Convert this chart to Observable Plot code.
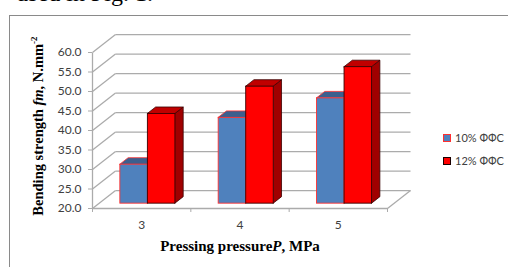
<!DOCTYPE html>
<html>
<head>
<meta charset="utf-8">
<script src="https://cdn.jsdelivr.net/npm/d3@7"></script>
<script src="https://cdn.jsdelivr.net/npm/@observablehq/plot@0.6"></script>
<style>
  html, body { margin: 0; padding: 0; background: #fff; }
  #wrap { position: relative; width: 508px; height: 267px; overflow: hidden; background: #fff; }
  #wrap svg { position: absolute; left: 0; top: 0; }
  .frame { position: absolute; left: 9px; top: 15px; width: 600px; height: 400px; border-left: 1px solid #8a8a8a; border-top: 1px solid #8a8a8a; }
  .doc { position: absolute; right: 355px; top: -20px; font: 24px "Liberation Serif", serif; white-space: nowrap; color: #000; }
  .ytitle { position: absolute; left: 38px; top: 126px; transform: translate(-50%, -50%) rotate(-90deg); font: bold 14.5px "Liberation Serif", serif; white-space: nowrap; color: #000; }
  .xtitle { position: absolute; left: 240px; top: 246px; transform: translate(-50%, -50%); font: bold 15px "Liberation Serif", serif; white-space: nowrap; color: #000; }
  .legend { position: absolute; left: 443px; top: 126px; font: 11px Lato, "Open Sans", sans-serif; color: #404040; }
  .legend div { height: 23px; display: flex; align-items: center; white-space: nowrap; }
  .legend span.sw { display: inline-block; width: 6px; height: 6px; margin-right: 4px; }
</style>
</head>
<body>
<div id="wrap">
  <div class="doc">used in Fig. 1.</div>
  <div class="frame"></div>
</div>
<script>
// ---- data ----
const pressures = ["3", "4", "5"];
const seriesNames = ["10% ФФС", "12% ФФС"];
const values10 = [30, 42, 47];
const values12 = [43, 50, 55];
const yTicks = [20, 25, 30, 35, 40, 45, 50, 55, 60];

// ---- styling / projection constants ----
const DX = 0.234;   // depth offset in x units
const DY = 4.6;     // depth offset in value units
const ZF = 0.27, ZB = 0.63; // bar front/back depth
const BW = 0.28;    // bar width
const frontFill = ["#4F81BD", "#FF0000"];
const topFill = ["#3C5F8E", "#C00000"];
const sideFill = ["#36567F", "#A00000"];
const strokeCol = ["#FF3030", "#3a0000"];
const gridCol = "#ababab";

const seriesVals = [values10, values12];
const bars = pressures.flatMap((p, i) => seriesNames.map((s, j) => {
  const x0 = i + 0.22 + j * BW;
  return {id: `${p}-${j}`, i, j, v: seriesVals[j][i], x0, x1: x0 + BW};
}));

const topPts = bars.flatMap(b => [ZF, ZB].map(z => ({id: b.id, j: b.j, y: b.v + z * DY, x1: b.x0 + z * DX, x2: b.x1 + z * DX})));
const sidePts = bars.flatMap(b => [ZF, ZB].map(z => ({id: b.id, j: b.j, x: b.x1 + z * DX, y1: 20 + z * DY, y2: b.v + z * DY})));

const xEdges = [0, 1, 2, 3];
const xCenters = pressures.map((p, i) => i + 0.5);

const plot = Plot.plot({
  width: 508, height: 267,
  marginLeft: 92, marginRight: 121, marginTop: 52, marginBottom: 59,
  x: {domain: [0, 3], label: null},
  y: {domain: [20, 60], label: null},
  style: {background: "transparent", overflow: "visible"},
  marks: [
    // back wall gridlines
    Plot.link(yTicks, {x1: DX, x2: 3 + DX, y1: d => d + DY, y2: d => d + DY, stroke: gridCol, strokeWidth: 1.3}),
    // side wall gridlines
    Plot.link(yTicks, {x1: 0, x2: DX, y1: d => d, y2: d => d + DY, stroke: gridCol, strokeWidth: 1.3}),
    // floor right edge and front edge
    Plot.link([3], {x1: d => d, x2: d => d + DX, y1: 20, y2: 20 + DY, stroke: gridCol, strokeWidth: 1.3}),
    Plot.link([0], {x1: 0, x2: 3, y1: 20, y2: 20, stroke: gridCol, strokeWidth: 1.3}),
    Plot.link([0], {x1: 0, x2: 0, y1: 20, y2: 60, stroke: gridCol, strokeWidth: 1.3}),
    // axes
    Plot.axisY({ticks: yTicks, tickFormat: d => d.toFixed(1), tickSize: 4, tickPadding: 7, stroke: gridCol, color: "#404040", fontSize: 12, fontFamily: "Lato, 'Open Sans', sans-serif", label: null}),
    Plot.axisX({ticks: xEdges, tickFormat: () => "", tickSize: 4, stroke: gridCol, label: null}),
    Plot.axisX({ticks: xCenters, tickFormat: d => pressures[Math.floor(d)], tickSize: 0, tickPadding: 12, color: "#404040", fontSize: 12, fontFamily: "Lato, 'Open Sans', sans-serif", label: null}),
    // bars: side faces, top faces, front faces
    Plot.areaY(sidePts, {x: "x", y1: "y1", y2: "y2", z: "id", fill: d => sideFill[d.j], stroke: d => strokeCol[d.j], strokeWidth: 0.8}),
    Plot.areaX(topPts, {y: "y", x1: "x1", x2: "x2", z: "id", fill: d => topFill[d.j], stroke: d => strokeCol[d.j], strokeWidth: 0.8}),
    Plot.rect(bars, {x1: d => d.x0 + ZF * DX, x2: d => d.x1 + ZF * DX, y1: 20 + ZF * DY, y2: d => d.v + ZF * DY, fill: d => frontFill[d.j], stroke: d => strokeCol[d.j], strokeWidth: 0.9})
  ]
});
const wrap = document.getElementById("wrap");
wrap.appendChild(plot);

const yt = document.createElement("div");
yt.className = "ytitle";
yt.innerHTML = "Bending strength <i>fm</i>, N.mm<sup style='font-size:9px'>-2</sup>";
wrap.appendChild(yt);
const xt = document.createElement("div");
xt.className = "xtitle";
xt.innerHTML = "Pressing pressure<i>P</i>, MPa";
wrap.appendChild(xt);

const lg = document.createElement("div");
lg.className = "legend";
seriesNames.forEach((s, j) => {
  const row = document.createElement("div");
  row.innerHTML = `<span class="sw" style="background:${frontFill[j]};border:1px solid ${j ? '#1a0000' : '#ff3030'}"></span>${s}`;
  lg.appendChild(row);
});
wrap.appendChild(lg);
</script>
</body>
</html>
